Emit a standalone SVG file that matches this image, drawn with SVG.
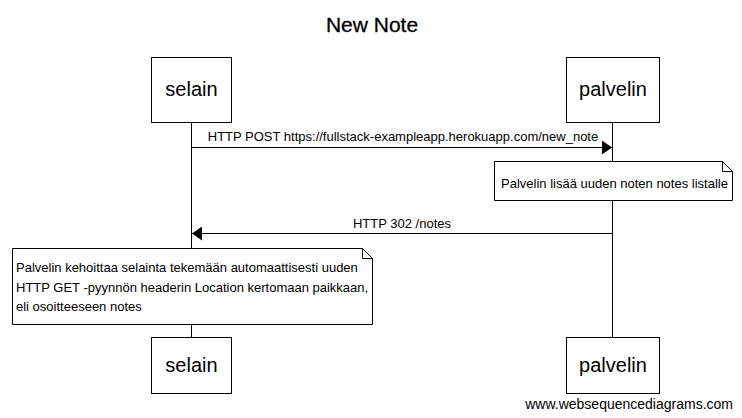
<svg xmlns="http://www.w3.org/2000/svg" width="742" height="418" viewBox="0 0 742 418">
<style>
text{font-family:"Liberation Sans",Arial,sans-serif;fill:#000}
.box{fill:#fff;stroke:#000;stroke-width:1}
.life{stroke:#000;stroke-width:1}
.msg{stroke:#000;stroke-width:1;fill:none}
.actor{font-size:20px;text-anchor:middle}
.lbl{font-size:13px;text-anchor:middle}
.note{font-size:13px}
</style>
<defs>
<marker id="ah" viewBox="0 0 10 14" refX="10" refY="7" markerWidth="10" markerHeight="14" markerUnits="userSpaceOnUse" orient="auto">
<path d="M0,0 L10,7 L0,14 Z" fill="#000"/>
</marker>
</defs>
<rect width="742" height="418" fill="#fff"/>
<text x="372" y="32" font-size="21" text-anchor="middle" stroke="#000" stroke-width="0.3">New Note</text>
<g id="lifelines">
<line class="life" x1="191.5" y1="122" x2="191.5" y2="337"/>
<line class="life" x1="612.5" y1="122" x2="612.5" y2="337"/>
</g>
<g id="connectors">
<line class="msg" x1="191.5" y1="147.5" x2="612" y2="147.5" marker-end="url(#ah)"/>
<text class="lbl" x="403" y="141">HTTP POST https://fullstack-exampleapp.herokuapp.com/new_note</text>
<line class="msg" x1="612.5" y1="233.5" x2="192" y2="233.5" marker-end="url(#ah)"/>
<text class="lbl" x="402" y="228">HTTP 302 /notes</text>
</g>
<g id="selain-top">
<rect class="box" x="151.5" y="57.5" width="80" height="65"/>
<text class="actor" x="191.5" y="96">selain</text>
</g>
<g id="palvelin-top">
<rect class="box" x="566.5" y="57.5" width="93" height="65"/>
<text class="actor" x="613" y="96">palvelin</text>
</g>
<g id="note1">
<path class="box" d="M494.5,161.5 H722.5 L732.5,171.5 V200.5 H494.5 Z"/>
<path d="M722.5,161.5 V171.5 H732.5" fill="none" stroke="#000"/>
<text class="note" x="501" y="188">Palvelin lisää uuden noten notes listalle</text>
</g>
<g id="note2">
<path class="box" d="M12.5,248.5 H362.5 L372.5,258.5 V324.5 H12.5 Z"/>
<path d="M362.5,248.5 V258.5 H372.5" fill="none" stroke="#000"/>
<text class="note" x="16" y="272">Palvelin kehoittaa selainta tekemään automaattisesti uuden</text>
<text class="note" x="16" y="291.5">HTTP GET -pyynnön headerin Location kertomaan paikkaan,</text>
<text class="note" x="16" y="311">eli osoitteeseen notes</text>
</g>
<g id="selain-bottom">
<rect class="box" x="151.5" y="337.5" width="80" height="56"/>
<text class="actor" x="191.5" y="372">selain</text>
</g>
<g id="palvelin-bottom">
<rect class="box" x="566.5" y="337.5" width="93" height="56"/>
<text class="actor" x="613" y="372">palvelin</text>
</g>
<text x="733" y="409" font-size="14" text-anchor="end">www.websequencediagrams.com</text>
</svg>
